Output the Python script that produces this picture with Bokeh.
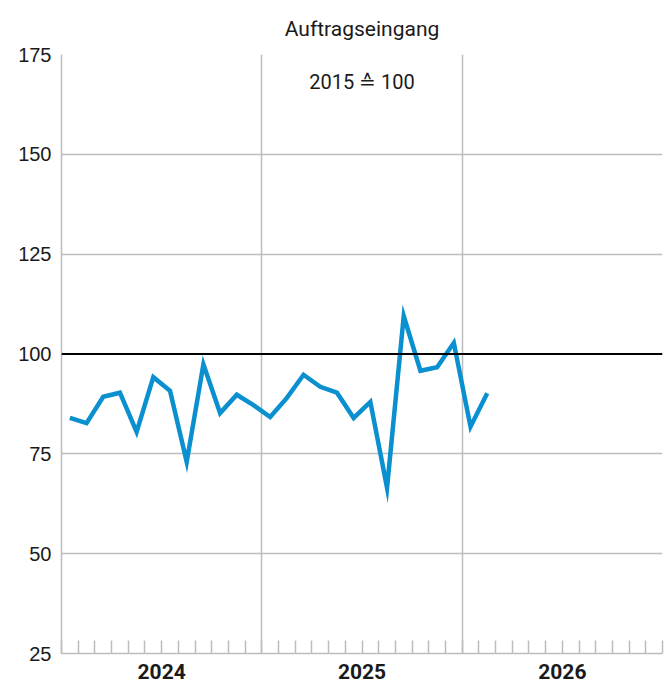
from bokeh.plotting import figure
from bokeh.models import FixedTicker, Span, Label, ColumnDataSource
from bokeh.embed import file_html
from bokeh.resources import INLINE

# Data (index 2015 = 100), monthly from Jan 2024
years = ["2024", "2025", "2026"]
values_2024 = [84.0, 82.7, 89.3, 90.3, 80.5, 94.2, 90.8, 73.0, 97.4, 85.2, 89.8, 87.2]
values_2025 = [84.2, 89.0, 94.8, 91.8, 90.3, 84.0, 88.0, 66.5, 109.5, 95.8, 96.7, 102.8]
values_2026 = [81.8, 90.2]
y_ticks = [25, 50, 75, 100, 125, 150, 175]
title_text = "Auftragseingang"
note_text = "2015 \u2259 100"

values = values_2024 + values_2025 + values_2026
n_months = 12 * len(years)
x = [i + 0.5 for i in range(len(values))]
src = ColumnDataSource(dict(x=x, y=values))

GRID = "#bdbdbd"
FONT = "Liberation Sans"
NARROW = "Roboto"

p = figure(frame_width=601, frame_height=599, output_backend="svg",
           toolbar_location=None, x_range=(0, n_months), y_range=(25, 175),
           min_border_left=61, min_border_right=8, min_border_top=54, min_border_bottom=30,
           title=title_text)
p.outline_line_color = None
p.background_fill_color = "white"

p.title.align = "center"
p.title.text_font = NARROW
p.title.text_font_size = "21px"
p.title.text_font_style = "normal"
p.title.text_color = "#1a1a1a"
p.title.text_line_height = 1.0
p.title.standoff = 28

# y axis
p.yaxis.ticker = FixedTicker(ticks=y_ticks)
p.yaxis.axis_line_color = GRID
p.yaxis.axis_line_width = 1.5
p.yaxis.major_tick_out = 0
p.yaxis.major_tick_in = 0
p.yaxis.minor_tick_line_color = None
p.yaxis.major_label_standoff = 10
p.yaxis.major_label_text_font = FONT
p.yaxis.major_label_text_font_size = "20px"
p.yaxis.major_label_text_color = "#1a1a1a"

# x axis: year labels centred, monthly minor ticks inside
centers = [12 * i + 6 for i in range(len(years))]
p.xaxis.ticker = FixedTicker(ticks=centers, minor_ticks=list(range(0, n_months + 1)))
p.xaxis.major_label_overrides = {c: y for c, y in zip(centers, years)}
p.xaxis.axis_line_color = GRID
p.xaxis.axis_line_width = 1.5
p.xaxis.major_tick_in = 0
p.xaxis.major_tick_out = 0
p.xaxis.minor_tick_in = 13
p.xaxis.minor_tick_out = 0
p.xaxis.minor_tick_line_color = GRID
p.xaxis.minor_tick_line_width = 1.5
p.xaxis.major_label_standoff = 10
p.xaxis.major_label_text_font = NARROW
p.xaxis.major_label_text_font_style = "bold"
p.xaxis.major_label_text_font_size = "21px"
p.xaxis.major_label_text_color = "#1a1a1a"

# grids
p.xgrid.ticker = FixedTicker(ticks=[12 * i for i in range(1, len(years))])
p.xgrid.grid_line_color = GRID
p.xgrid.grid_line_width = 1.5
p.ygrid.ticker = FixedTicker(ticks=[t for t in y_ticks if t not in (25, 100)])
p.ygrid.grid_line_color = GRID
p.ygrid.grid_line_width = 1.5

p.add_layout(Span(location=100, dimension="width", line_color="black", line_width=2))

p.line("x", "y", source=src, line_color="#0a8fcf", line_width=4.5, line_join="miter")

p.add_layout(Label(x=18, y=168, text=note_text, text_align="center", text_baseline="middle",
                   text_font=NARROW, text_font_size="20px", text_color="#1a1a1a"))

open("out.html", "w").write(file_html(p, INLINE))
